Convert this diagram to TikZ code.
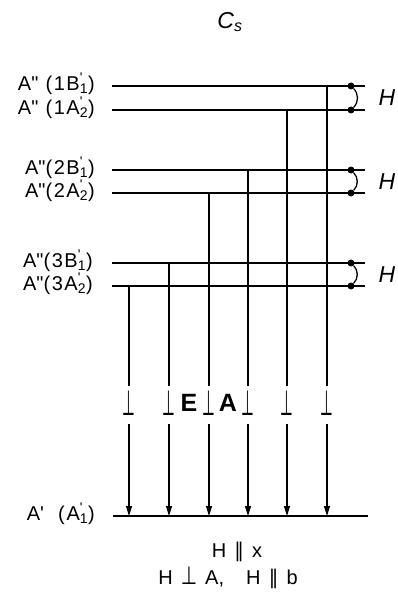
\documentclass[tikz,border=0pt]{standalone}
\usepackage{graphicx}
\usepackage{fontspec}
\setmainfont{Liberation Sans}
\newfontfamily\symfont{DejaVu Sans}
\usetikzlibrary{arrows.meta,positioning}
\newcommand\sbp[1]{\rlap{\textsuperscript{\textquotesingle}}\textsubscript{#1}}
\newcommand\pp{\scalebox{0.42}[1]{\symfont ⊥}}
\newcommand\tperp{\scalebox{0.75}[1]{\fontsize{25}{22}\selectfont\symfont ⊥}}
\newcommand\tpar{{\symfont ∥}}
\tikzset{
  lvlline/.style={line width=1.7pt},
  dropline/.style={line width=1.3pt, shorten >=5pt},
  droparrow/.style={line width=1.3pt, shorten <=9pt, -{Triangle[length=10pt,width=6pt]}},
  lvllabel/.style={anchor=east, inner sep=0pt, font=\fontsize{20}{22}\selectfont\addfontfeature{LetterSpace=8}},
  perplabel/.style={inner sep=0pt, font=\fontsize{35}{37}\selectfont},
  fieldlabel/.style={inner sep=0pt, font=\fontsize{25}{27}\selectfont\bfseries},
  pairdot/.style={circle, fill, inner sep=0pt, minimum size=7pt},
  pairarc/.style={line width=1.3pt},
  hlabel/.style={inner sep=0pt, font=\fontsize{23}{25}\selectfont\itshape},
  caption/.style={inner sep=0pt, font=\fontsize{20}{22}\selectfont}
}
\begin{document}
\begin{tikzpicture}[x=1pt, y=-1pt]
  \useasboundingbox (0,0) rectangle (397,596);
  % symmetry group
  \node[hlabel] (grp) at (230,22) {C\textsubscript{s}};
  % excited levels
  \node[lvllabel] (n1b) at (95,84) {A\textquotedbl\ (1B\sbp{1})};
  \node[lvllabel] (n1a) at (95,108) {A\textquotedbl\ (1A\sbp{2})};
  \node[lvllabel] (n2b) at (95,168) {A\textquotedbl(2B\sbp{1})};
  \node[lvllabel] (n2a) at (95,191) {A\textquotedbl(2A\sbp{2})};
  \node[lvllabel] (n3b) at (93,261) {A\textquotedbl(3B\sbp{1})};
  \node[lvllabel] (n3a) at (93,284) {A\textquotedbl(3A\sbp{2})};
  \node[lvllabel] (n0) at (95,514) {A\textquotesingle\ \ (A\sbp{1})};
  \foreach \n/\y in {1b/86, 1a/110, 2b/170, 2a/193, 3b/263, 3a/286} {
    \coordinate (l\n) at (112,\y);
    \coordinate (r\n) at (365,\y);
    \draw[lvlline] (l\n) -- (r\n);
  }
  \coordinate (g0) at (113,516);
  \coordinate (g1) at (368,516);
  \draw[lvlline] (g0) -- (g1);
  % Zeeman pairs
  \foreach \p/\ya/\yb in {1/86/110, 2/170/193, 3/263/286} {
    \node[pairdot] (du\p) at (351,\ya) {};
    \node[pairdot] (dl\p) at (351,\yb) {};
    \draw[pairarc] (du\p) to[bend left=45] (dl\p);
    \node[hlabel] (h\p) at (387,{(\ya+\yb)/2}) {H};
  }
  % transitions
  \foreach \x/\lv [count=\i] in {129/3a, 169/3b, 209/2a, 248/2b, 287/1a, 327/1b} {
    \coordinate (s\i) at (\x,0 |- l\lv);
    \node[perplabel] (p\i) at (\x,403) {\pp};
    \coordinate (e\i) at (\x,516);
    \draw[dropline] (s\i) -- (p\i.north);
    \draw[droparrow] (p\i.south) -- (e\i);
  }
  \node[fieldlabel] (fE) at (189,403) {E};
  \node[fieldlabel] (fA) at (228,403) {A};
  % field orientation
  \node[caption] (c1) at (237,552) {H\hspace{8pt}\tpar\hspace{8pt}x};
  \node[caption] (c2) at (228,578) {H\hspace{8pt}\tperp\hspace{8pt}A,\hspace{22pt}H\hspace{8pt}\tpar\hspace{8pt}b};
\end{tikzpicture}
\end{document}
